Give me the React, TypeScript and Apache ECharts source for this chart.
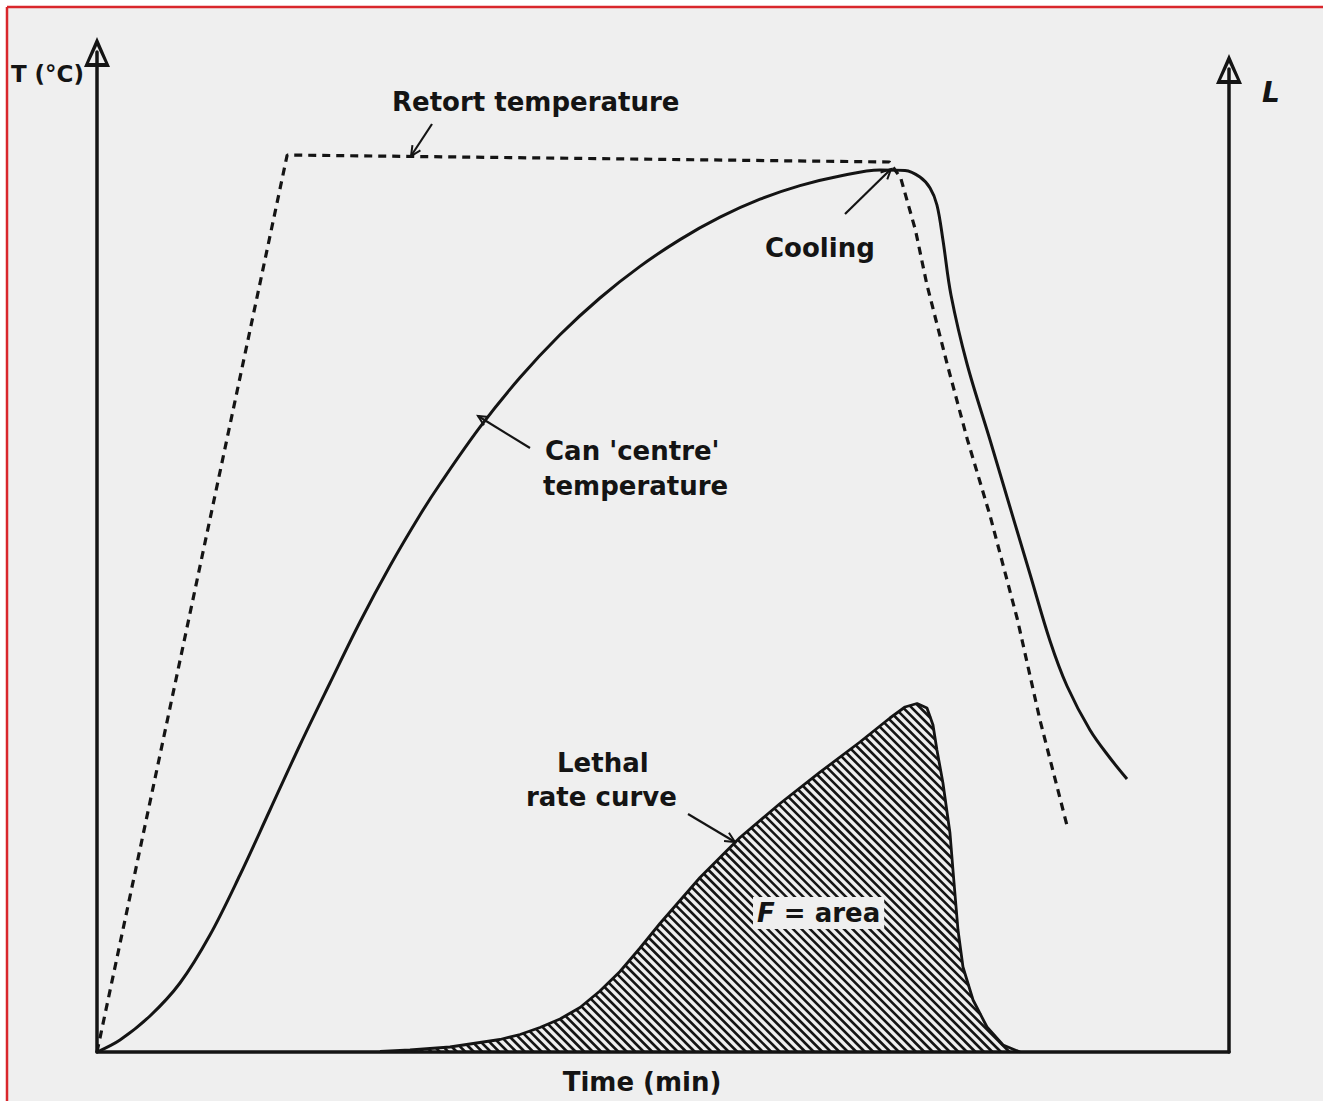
import React, { useEffect, useRef } from 'react';
import * as echarts from 'echarts';

// Retort temperature (dashed)
const retortTime = [0, 16.8, 70.0, 71.0, 72.3, 73.3, 75.1, 76.9, 78.9, 81.3, 83.3, 85.7];
const retortTemp = [0, 89.7, 89.0, 87.4, 82.2, 76.8, 68.8, 61.2, 53.6, 43.3, 33.2, 22.6];

// Can 'centre' temperature (solid)
const centreTime = [0, 2.03, 4.68, 7.33, 9.98, 12.63, 15.28, 17.93, 20.58, 23.23, 25.88, 28.53, 30.3, 33.83, 37.37, 40.9, 44.43, 47.97, 51.5, 55.04, 58.57, 62.1, 65.64, 69.17, 71.38, 72.7, 73.59, 74.2, 74.73, 75.44, 76.86, 78.89, 80.65, 82.42, 84.19, 85.69, 87.72, 89.49, 90.99];
const centreTemp = [0, 1.2, 3.6, 6.9, 11.7, 17.7, 24.2, 30.7, 36.9, 43.0, 48.6, 53.7, 56.8, 62.48, 67.44, 71.72, 75.4, 78.56, 81.24, 83.48, 85.28, 86.64, 87.6, 88.2, 88.15, 87.5, 86.4, 84.7, 81.2, 75.7, 68.8, 61.2, 54.5, 47.8, 41.1, 36.6, 32.2, 29.4, 27.3];

// Lethal rate curve (hatched, right axis L)
const lethalTime = [25.0, 27.65, 31.18, 35.6, 37.37, 39.13, 40.9, 42.67, 44.43, 46.2, 47.97, 49.73, 53.27, 56.8, 60.34, 63.87, 67.4, 70.05, 71.38, 72.44, 73.32, 73.85, 74.2, 74.73, 75.35, 75.71, 76.06, 76.5, 77.39, 78.62, 80.04, 81.54];
const lethalRate = [0.05, 0.2, 0.5, 1.25, 1.75, 2.45, 3.3, 4.45, 6.1, 8.05, 10.4, 12.85, 17.45, 21.45, 24.85, 27.98, 31.0, 33.4, 34.5, 34.85, 34.4, 32.7, 30.2, 26.9, 21.9, 16.9, 12.2, 8.5, 5.2, 2.5, 0.7, 0];

const INK = '#141414';
const BG = '#efefef';
const FONT = 'DejaVu Sans';
const ARROW = 'path://M13,0L26,30L0,30Z M13,9L5,26L21,26Z';

function pointer(x1: number, y1: number, x2: number, y2: number) {
  const ang = Math.atan2(y2 - y1, x2 - x1);
  const len = 11;
  const spread = 0.45;
  const a1 = [x2 - len * Math.cos(ang - spread), y2 - len * Math.sin(ang - spread)];
  const a2 = [x2 - len * Math.cos(ang + spread), y2 - len * Math.sin(ang + spread)];
  return {
    type: 'group',
    z: 100,
    children: [
      { type: 'line', shape: { x1, y1, x2, y2 }, style: { stroke: INK, lineWidth: 2.2 } },
      { type: 'polyline', shape: { points: [a1, [x2, y2], a2] }, style: { stroke: INK, lineWidth: 2, fill: 'none' } },
    ],
  };
}

function label(text: string, x: number, y: number, extra: any = {}) {
  return {
    type: 'text',
    z: 100,
    x,
    y,
    style: {
      text,
      fill: INK,
      fontFamily: FONT,
      fontWeight: 'bold',
      fontSize: 26,
      textAlign: 'left',
      textVerticalAlign: 'middle',
      ...extra,
    },
  };
}

export default function App() {
  const ref = useRef<HTMLDivElement>(null);
  useEffect(() => {
    if (!ref.current) return;
    const chart = echarts.init(ref.current, null, { renderer: 'svg' });
    const hidden = { show: false };
    const option: any = {
      animation: false,
      backgroundColor: '#ffffff',
      grid: [
        { left: 97, right: 94, top: 52, bottom: 49 },
        { left: 97, right: 94, top: 69, bottom: 49 },
      ],
      xAxis: [
        {
          type: 'value', gridIndex: 0, min: 0, max: 100,
          axisLine: { show: true, lineStyle: { color: INK, width: 3.5 } },
          axisTick: hidden, axisLabel: hidden, splitLine: hidden,
        },
        { type: 'value', gridIndex: 1, min: 0, max: 100, show: false },
      ],
      yAxis: [
        {
          type: 'value', gridIndex: 0, min: 0, max: 100,
          axisLine: { show: true, onZero: false, symbol: ['none', ARROW], symbolSize: [26, 30], lineStyle: { color: INK, width: 3.5 } },
          axisTick: hidden, axisLabel: hidden, splitLine: hidden,
        },
        {
          type: 'value', gridIndex: 1, position: 'right', min: 0, max: 98.3,
          axisLine: { show: true, onZero: false, symbol: ['none', ARROW], symbolSize: [26, 30], lineStyle: { color: INK, width: 3.5 } },
          axisTick: hidden, axisLabel: hidden, splitLine: hidden,
        },
      ],
      series: [
        {
          name: 'Retort temperature', type: 'line', xAxisIndex: 0, yAxisIndex: 0,
          data: retortTime.map((t, i) => [t, retortTemp[i]]),
          showSymbol: false, z: 3,
          lineStyle: { color: INK, width: 3.2, type: [8, 6] },
        },
        {
          name: "Can 'centre' temperature", type: 'line', xAxisIndex: 0, yAxisIndex: 0,
          data: centreTime.map((t, i) => [t, centreTemp[i]]),
          showSymbol: false, smooth: 0.35, z: 4,
          lineStyle: { color: INK, width: 3 },
        },
        {
          name: 'Lethal rate hatch', type: 'custom', xAxisIndex: 1, yAxisIndex: 1,
          data: [[lethalTime[0], 0]], clip: false, z: 2,
          renderItem: (_p: any, api: any) => {
            const pts: number[][] = lethalTime.map((t, i) => api.coord([t, lethalRate[i]]));
            pts.push(api.coord([lethalTime[lethalTime.length - 1], 0]));
            pts.push(api.coord([lethalTime[0], 0]));
            const step = 8.5;
            const cs = pts.map((p) => p[0] - p[1]);
            const cmin = Math.min(...cs);
            const cmax = Math.max(...cs);
            const children: any[] = [];
            for (let c = Math.ceil(cmin / step) * step; c <= cmax; c += step) {
              const xs: number[][] = [];
              for (let i = 0; i < pts.length; i++) {
                const a = pts[i];
                const b = pts[(i + 1) % pts.length];
                const fa = a[0] - a[1] - c;
                const fb = b[0] - b[1] - c;
                if ((fa > 0) !== (fb > 0)) {
                  const k = fa / (fa - fb);
                  xs.push([a[0] + k * (b[0] - a[0]), a[1] + k * (b[1] - a[1])]);
                }
              }
              xs.sort((p, q) => p[0] - q[0]);
              for (let k = 0; k + 1 < xs.length; k += 2) {
                children.push({
                  type: 'line',
                  shape: { x1: xs[k][0], y1: xs[k][1], x2: xs[k + 1][0], y2: xs[k + 1][1] },
                  style: { stroke: INK, lineWidth: 2.6 },
                });
              }
            }
            return { type: 'group', children };
          },
        },
        {
          name: 'Lethal rate curve', type: 'line', xAxisIndex: 1, yAxisIndex: 1,
          data: lethalTime.map((t, i) => [t, lethalRate[i]]),
          showSymbol: false, z: 5,
          lineStyle: { color: INK, width: 2.8 },
        },
      ],
      graphic: [
        { type: 'rect', z: -100, silent: true, shape: { x: 8, y: 8, width: 1315, height: 1093 }, style: { fill: BG } },
        label('T (°C)', 84, 74, { textAlign: 'right', fontSize: 23 }),
        label('L', 1271, 92, { textAlign: 'center', fontSize: 28, fontStyle: 'italic' }),
        label('Retort temperature', 392, 102),
        label('Cooling', 765, 248),
        label("Can 'centre'", 545, 451),
        label('temperature', 543, 486),
        label('Lethal', 557, 763),
        label('rate curve', 526, 797),
        label('{i|F} = area', 753, 913, {
          backgroundColor: BG,
          padding: [3, 4],
          rich: { i: { fontStyle: 'italic', fontWeight: 'bold', fontSize: 26, fontFamily: FONT, fill: INK } },
        }),
        label('Time (min)', 642, 1082, { textAlign: 'center' }),
        pointer(432, 124, 411, 156),
        pointer(845, 214, 891, 169),
        pointer(530, 448, 478, 416),
        pointer(688, 814, 735, 842),
        { type: 'line', z: 200, shape: { x1: 7, y1: 7, x2: 1323, y2: 7 }, style: { stroke: '#d9262b', lineWidth: 2.5 } },
        { type: 'line', z: 200, shape: { x1: 7, y1: 7, x2: 7, y2: 1101 }, style: { stroke: '#d9262b', lineWidth: 2.5 } },
      ],
    };
    chart.setOption(option);
    return () => chart.dispose();
  }, []);
  return (
    <div
      ref={ref}
      style={{ position: 'absolute', left: 0, top: 0, width: 1323, height: 1101 }}
    />
  );
}
